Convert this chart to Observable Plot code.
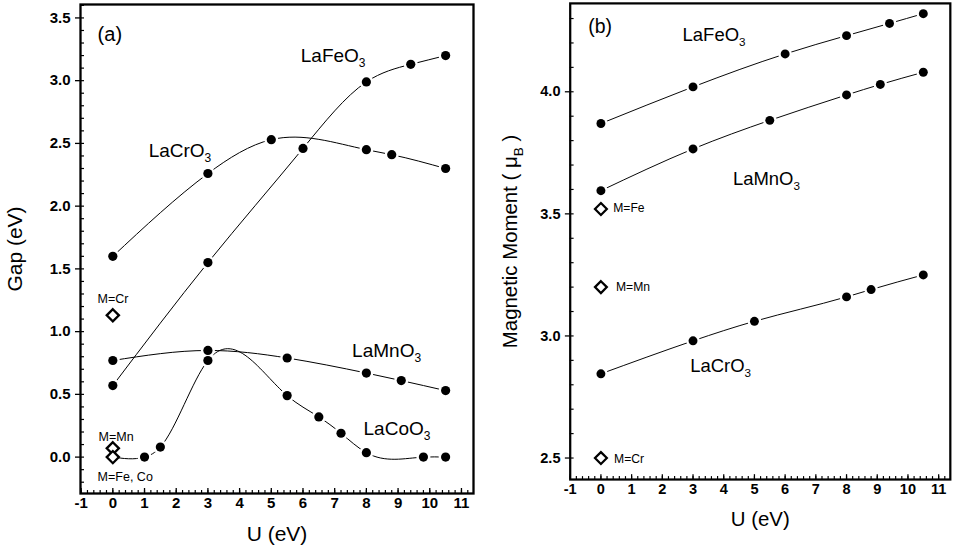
<!DOCTYPE html>
<html><head><meta charset="utf-8">
<script src="https://cdn.jsdelivr.net/npm/d3@7"></script>
<script src="https://cdn.jsdelivr.net/npm/@observablehq/plot@0.6"></script>
<style>
html,body{margin:0;padding:0;background:#fff;overflow:hidden;}
#wrap{position:relative;width:958px;height:559px;overflow:hidden;background:#fff;}
#pa{position:absolute;left:0;top:0;}
#pb{position:absolute;left:478px;top:0;}
g[aria-label="x-axis tick label"], g[aria-label="y-axis tick label"],
g[aria-label="x-axis tick label"] text, g[aria-label="y-axis tick label"] text,
text.ticklab { font-size: 15px !important; font-weight: bold !important; }
</style></head><body><div id="wrap"><div id="pa"></div><div id="pb"></div></div>
<script>
// ---- data ----
const uCr = [0, 3, 5, 8, 8.8, 10.5];
const uFe = [0, 3, 6, 8, 9.4, 10.5];
const uMn = [0, 3, 5.5, 8, 9.1, 10.5];
const uCo = [0, 1, 1.5, 3, 5.5, 6.5, 7.2, 8, 9.8, 10.5]; // first point is the U=0 diamond (no dot)

const gapCr = [1.6, 2.26, 2.53, 2.45, 2.41, 2.3];
const gapFe = [0.57, 1.55, 2.46, 2.99, 3.13, 3.2];
const gapMn = [0.77, 0.85, 0.79, 0.67, 0.61, 0.53];
const gapCo = [0, 0, 0.08, 0.77, 0.49, 0.32, 0.19, 0.035, 0, 0];

const momFe = [3.87, 4.02, 4.155, 4.23, 4.28, 4.32];
const momMn = [3.595, 3.766, 3.883, 3.987, 4.03, 4.08];
const momCr = [2.845, 2.98, 3.06, 3.16, 3.19, 3.25];

const lsdaGapNames = ["M=Cr", "M=Mn", "M=Fe, Co"];
const lsdaGap = [1.13, 0.07, 0];
const lsdaMomNames = ["M=Fe", "M=Mn", "M=Cr"];
const lsdaMom = [3.52, 3.2, 2.5];

const xMajor = [-1, 0, 1, 2, 3, 4, 5, 6, 7, 8, 9, 10, 11];
const yMajorA = [0, 0.5, 1, 1.5, 2, 2.5, 3, 3.5];
const yMajorB = [2.5, 3, 3.5, 4];

// annotation positions (data coordinates)
const seriesLabelsA = [
  {t: "LaFeO_3_", u: 5.93, v: 3.145},
  {t: "LaCrO_3_", u: 1.13, v: 2.388},
  {t: "LaMnO_3_", u: 7.55, v: 0.794},
  {t: "LaCoO_3_", u: 7.91, v: 0.173}
];
const smallLabelsA = [
  {t: "M=Cr", u: -0.48, v: 1.257},
  {t: "M=Mn", u: -0.45, v: 0.157},
  {t: "M=Fe, Co", u: -0.48, v: -0.162}
];
const seriesLabelsB = [
  {t: "LaFeO_3_", u: 2.66, v: 4.207},
  {t: "LaMnO_3_", u: 4.3, v: 3.618},
  {t: "LaCrO_3_", u: 2.91, v: 2.853}
];
const smallLabelsB = [
  {t: "M=Fe", u: 0.4, v: 3.525},
  {t: "M=Mn", u: 0.49, v: 3.2},
  {t: "M=Cr", u: 0.43, v: 2.497}
];

// ---- build tidy tables ----
const tidy = (name, us, vs, skipFirstDot) => us.map((u, i) => ({name, u, v: vs[i], dot: !(skipFirstDot && i === 0)}));
const seriesA = [
  ...tidy("LaCrO3", uCr, gapCr),
  ...tidy("LaFeO3", uFe, gapFe),
  ...tidy("LaMnO3", uMn, gapMn),
  ...tidy("LaCoO3", uCo, gapCo, true)
];
const seriesB = [
  ...tidy("LaFeO3", uFe, momFe),
  ...tidy("LaMnO3", uMn, momMn),
  ...tidy("LaCrO3", uCr, momCr)
];
const diamondsA = lsdaGap.map((v, i) => ({u: 0, v, name: lsdaGapNames[i]}));
const diamondsB = lsdaMom.map((v, i) => ({u: 0, v, name: lsdaMomNames[i]}));

const minorX = d3.range(-1, 11.3, 0.2).map(d => +d.toFixed(2));
const minorYA = d3.range(-0.2, 3.65, 0.1).map(d => +d.toFixed(2));
const minorYB = d3.range(2.5, 4.35, 0.1).map(d => +d.toFixed(2));

const font = "'Liberation Sans', Arial, Helvetica, sans-serif";
const intFmt = d => (d < 0 ? "-" + (-d) : String(d));

// natural cubic spline of y as a function of x (rendering style only)
function curveNaturalX(context) {
  let xs, ys;
  return {
    areaStart() {}, areaEnd() {},
    lineStart() { xs = []; ys = []; },
    point(x, y) { xs.push(+x); ys.push(+y); },
    lineEnd() {
      const n = xs.length;
      if (!n) return;
      context.moveTo(xs[0], ys[0]);
      if (n === 1) return;
      if (n === 2) { context.lineTo(xs[1], ys[1]); return; }
      const h = [], M = new Array(n).fill(0);
      for (let i = 0; i < n - 1; i++) h.push(xs[i + 1] - xs[i]);
      const a = [], b = [], c = [], r = [];
      for (let i = 1; i < n - 1; i++) {
        a.push(h[i - 1]); b.push(2 * (h[i - 1] + h[i])); c.push(h[i]);
        r.push(6 * ((ys[i + 1] - ys[i]) / h[i] - (ys[i] - ys[i - 1]) / h[i - 1]));
      }
      const m = b.length;
      for (let i = 1; i < m; i++) { const w = a[i] / b[i - 1]; b[i] -= w * c[i - 1]; r[i] -= w * r[i - 1]; }
      const sol = new Array(m);
      sol[m - 1] = r[m - 1] / b[m - 1];
      for (let i = m - 2; i >= 0; i--) sol[i] = (r[i] - c[i] * sol[i + 1]) / b[i];
      for (let i = 0; i < m; i++) M[i + 1] = sol[i];
      for (let i = 0; i < n - 1; i++) {
        const hh = h[i], s = (ys[i + 1] - ys[i]) / hh;
        const d0 = s - hh * (2 * M[i] + M[i + 1]) / 6;
        const d1 = s + hh * (M[i] + 2 * M[i + 1]) / 6;
        context.bezierCurveTo(xs[i] + hh / 3, ys[i] + d0 * hh / 3, xs[i + 1] - hh / 3, ys[i + 1] - d1 * hh / 3, xs[i + 1], ys[i + 1]);
      }
    }
  };
}

function panel({width, marginLeft, marginRight, marginTop, xDomain, yDomain, series, diamonds, seriesLabels, smallLabels, yMajor, yMinor, yFormat, tag, tagPos, yTitle, yTitleDx}) {
  return Plot.plot({
    width, height: 559, marginLeft, marginRight, marginTop, marginBottom: 66,
    x: {domain: xDomain, label: null},
    y: {domain: yDomain, label: null},
    style: {fontFamily: font, background: "white", color: "black", overflow: "visible"},
    marks: [
      Plot.line(series, {x: "u", y: "v", z: "name", curve: curveNaturalX, stroke: "black", strokeWidth: 1}),
      Plot.dot(series.filter(d => d.dot), {x: "u", y: "v", r: 7, fill: "white"}),
      Plot.dot(series.filter(d => d.dot), {x: "u", y: "v", r: 4.6, fill: "black"}),
      Plot.dot(diamonds, {x: "u", y: "v", symbol: "diamond2", r: 5.5, stroke: "black", strokeWidth: 2.3, fill: "white"}),
      Plot.text(smallLabels, {x: "u", y: "v", text: "t", textAnchor: "start", fontSize: 12.5}),
      Plot.text(seriesLabels, {x: "u", y: "v", text: "t", textAnchor: "start", lineAnchor: "bottom", fontSize: 19}),
      Plot.text([tag], {x: () => tagPos.u, y: () => tagPos.v, textAnchor: "start", fontSize: 20}),
      Plot.axisX({ticks: xMajor, tickSize: 0, tickPadding: 4, tickFormat: intFmt, label: null, fontSize: 15, fontWeight: "bold"}),
      Plot.axisX({ticks: xMajor, tickSize: 5, dy: -5, fill: "none", label: null, strokeWidth: 1.3}),
      Plot.axisX({ticks: minorX, tickSize: 3, dy: -3, fill: "none", label: null, strokeWidth: 1.2}),
      Plot.axisY({ticks: yMajor, tickSize: 5, tickPadding: 5, tickFormat: yFormat, label: null, strokeWidth: 1.3, fontSize: 15, fontWeight: "bold"}),
      Plot.axisY({ticks: yMinor, tickSize: 4, dx: 4, fill: "none", label: null, strokeWidth: 1.2}),
      Plot.frame({stroke: "black", strokeWidth: 2.3}),
      Plot.text([yTitle], {frameAnchor: "left", textAnchor: "middle", lineAnchor: "middle", rotate: -90, dx: yTitleDx, fontSize: 21}),
      Plot.text(["U (eV)"], {frameAnchor: "bottom", textAnchor: "middle", lineAnchor: "middle", dy: 41, fontSize: 21})
    ]
  });
}

const svgA = panel({
  width: 480, marginLeft: 80, marginRight: 7, marginTop: 4,
  xDomain: [-1.02, 11.38], yDomain: [-0.29, 3.607],
  series: seriesA, diamonds: diamondsA, seriesLabels: seriesLabelsA, smallLabels: smallLabelsA,
  yMajor: yMajorA, yMinor: minorYA, yFormat: d3.format(".1f"),
  tag: "(a)", tagPos: {u: -0.48, v: 3.368}, yTitle: "Gap (eV)", yTitleDx: -65
});
const svgB = panel({
  width: 494, marginLeft: 94.4, marginRight: 8.4, marginTop: 3,
  xDomain: [-1, 11.38], yDomain: [2.412, 4.362],
  series: seriesB, diamonds: diamondsB, seriesLabels: seriesLabelsB, smallLabels: smallLabelsB,
  yMajor: yMajorB, yMinor: minorYB, yFormat: d3.format(".1f"),
  tag: "(b)", tagPos: {u: -0.41, v: 4.267}, yTitle: "Magnetic Moment ( μ_B_ )", yTitleDx: -61
});
document.getElementById("pa").appendChild(svgA);
document.getElementById("pb").appendChild(svgB);

// bold tick labels (numeric texts only)
for (const svg of [svgA, svgB]) {
  d3.select(svg).selectAll("text")
    .filter(function() { return /^-?\d+(\.\d+)?$/.test(this.textContent.trim()); })
    .classed("ticklab", true)
    .attr("font-size", 15).attr("font-weight", "bold")
    .style("font-size", "15px").style("font-weight", "bold");
}

// turn _x_ segments into subscripts
function subscripts(svg) {
  d3.select(svg).selectAll("text").each(function() {
    const s = this.textContent;
    if (!s.includes("_")) return;
    const fs = parseFloat(getComputedStyle(this).fontSize) || 16;
    const shift = Math.round(fs * 0.28);
    const parts = s.split("_");
    this.textContent = "";
    const sel = d3.select(this);
    parts.forEach((p, i) => {
      if (!p) return;
      const ts = sel.append("tspan").text(p);
      if (i % 2 === 1) ts.attr("font-size", Math.round(fs * 0.65)).attr("dy", shift);
      else if (i > 0) ts.attr("dy", -shift);
    });
  });
}
subscripts(svgA);
subscripts(svgB);
</script></body></html>
